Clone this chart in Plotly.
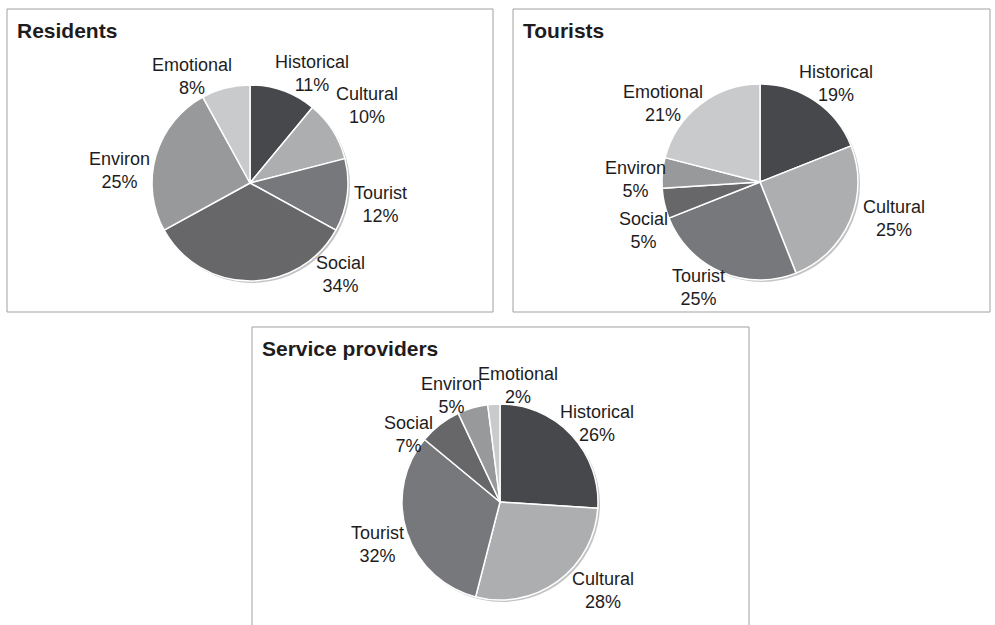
import plotly.graph_objects as go

categories = ["Historical", "Cultural", "Tourist", "Social", "Environ", "Emotional"]
residents = [11, 10, 12, 34, 25, 8]
tourists = [19, 25, 25, 5, 5, 21]
providers = [26, 28, 32, 7, 5, 2]
titles = ["Residents", "Tourists", "Service providers"]
colors = ["#47484b", "#adaeb0", "#77787b", "#67676a", "#98999b", "#c9cacc"]

W, H = 995, 625
FONT = "Liberation Sans, Arial, sans-serif"

def px_x(x):
    return x / W

def px_y(y):
    return 1 - y / H

# layout (pixels)
boxes = [(7, 9, 493, 312), (513, 9, 990, 312), (252, 327, 749, 640)]
centers = [(250, 183), (760, 182), (500, 502)]
R = 98
# label placement offsets from each pie centre (pixels), per category order
label_offsets = [
    [(62, -110), (117, -78), (130, 21), (90, 91), (-131, -13), (-58, -106)],
    [(76, -99), (134, 36), (-62, 105), (-117, 48), (-125, -3), (-97, -79)],
    [(97, -79), (103, 88), (-123, 42), (-92, -68), (-49, -107), (18, -117)],
]

fig = go.Figure()
shapes = []
annotations = []
for vals, title, box, (cx, cy), offs in zip([residents, tourists, providers], titles, boxes, centers, label_offsets):
    fig.add_trace(go.Pie(
        labels=categories,
        values=vals,
        sort=False,
        direction="clockwise",
        rotation=0,
        marker=dict(colors=colors, line=dict(color="#ffffff", width=1.5)),
        textinfo="none",
        showlegend=False,
        hoverinfo="label+percent",
        domain=dict(x=[px_x(cx - R), px_x(cx + R)], y=[px_y(cy + R), px_y(cy - R)]),
    ))
    x0, y0, x1, y1 = box
    shapes.append(dict(type="rect", xref="paper", yref="paper",
                       x0=px_x(x0), x1=px_x(x1), y0=px_y(y1), y1=px_y(y0),
                       line=dict(color="#a0a0a0", width=1), fillcolor="rgba(0,0,0,0)", layer="below"))
    shapes.append(dict(type="circle", xref="paper", yref="paper",
                       x0=px_x(cx - R + 2), x1=px_x(cx + R + 2), y0=px_y(cy + R + 2), y1=px_y(cy - R + 2),
                       line=dict(width=0), fillcolor="#c4c4c4", layer="below"))
    annotations.append(dict(text="<b>" + title + "</b>", xref="paper", yref="paper",
                            x=px_x(x0 + 8), y=px_y(y0 + 8), xanchor="left", yanchor="top",
                            showarrow=False,
                            font=dict(family=FONT, size=21, color="#1e1c1d")))
    total = sum(vals)
    for cat, v, (dx, dy) in zip(categories, vals, offs):
        pct = round(100 * v / total)
        annotations.append(dict(text=f"{cat}<br>{pct}%", xref="paper", yref="paper",
                                x=px_x(cx + dx), y=px_y(cy + dy), xanchor="center", yanchor="middle",
                                showarrow=False, align="center",
                                font=dict(family=FONT, size=18, color="#1e1c1d")))

fig.update_layout(
    width=W, height=H,
    margin=dict(l=0, r=0, t=0, b=0),
    paper_bgcolor="#ffffff",
    plot_bgcolor="#ffffff",
    shapes=shapes,
    annotations=annotations,
)

fig.write_html("out.html", config={"displayModeBar": False},
               post_script="document.body.style.margin='0';document.body.style.overflow='hidden';")
